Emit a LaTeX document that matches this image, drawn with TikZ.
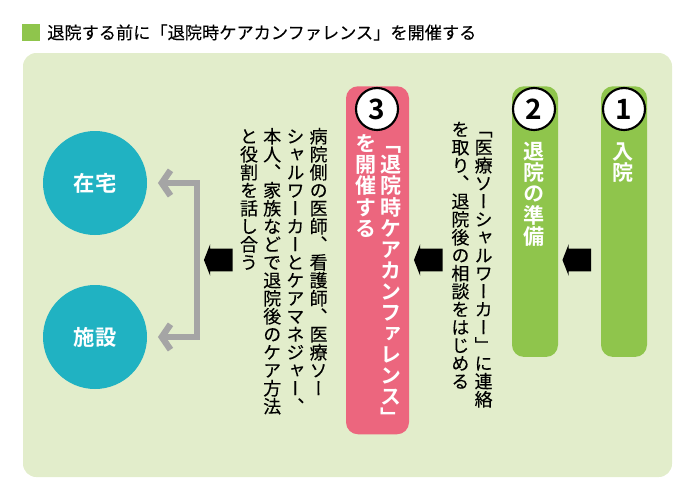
\documentclass[tikz,border=0pt]{standalone}
\usepackage{fontspec}
\setmainfont{Noto Sans CJK JP}[FakeBold=0.15]
\newfontfamily\vtext[Vertical=RotatedGlyphs,RawFeature={vertical},FakeBold=0.15]{Noto Sans CJK JP}
\newfontfamily\vbold[Vertical=RotatedGlyphs,RawFeature={vertical},BoldFont={},UprightFont={* Bold}]{Noto Sans CJK JP}
\newfontfamily\bfont[UprightFont={* Bold}]{Noto Sans CJK JP}
\usetikzlibrary{arrows.meta,positioning,shapes.arrows}
\definecolor{panelgreen}{HTML}{E2EDCB}
\definecolor{bargreen}{HTML}{8FC54C}
\definecolor{barpink}{HTML}{EC667E}
\definecolor{circleteal}{HTML}{20B2C2}
\definecolor{arrowgray}{HTML}{A5A5A5}
\tikzset{
	bar/.style={rounded corners=9pt, minimum width=#1, inner sep=0pt, anchor=north},
	numdot/.style={circle, draw=black, line width=1.6pt, fill=white, minimum size=31.5pt, inner sep=0pt, font=\bfont\fontsize{21}{21}\selectfont},
	place/.style={circle, fill=circleteal, minimum size=78pt, inner sep=0pt, text=white, font=\bfont\fontsize{16}{16}\selectfont},
	barlabel/.style={rotate=-90, anchor=north west, align=left, inner sep=0pt, text=white, font=\vbold\fontsize{15.8}{18.8}\selectfont},
	bodytext/.style={rotate=-90, anchor=north west, align=left, inner sep=0pt, font=\vtext\fontsize{13.5}{17.4}\selectfont},
	blockarrow/.style={single arrow, fill=black, minimum width=23.25pt, minimum height=21.5pt, single arrow head extend=3.4pt, single arrow tip angle=137, shape border rotate=180, inner xsep=0pt, inner ysep=8.25pt},
	grayline/.style={draw=arrowgray, line width=4.8pt, shorten >=8pt, -{Straight Barb[length=6.5pt, width=19pt, line width=4.8pt]}}
}
\begin{document}
\begin{tikzpicture}[x=0.75pt, y=-0.75pt]
	\useasboundingbox (0,0) rectangle (680,489);

	% heading
	\draw (31,32.5) node [fill=bargreen, minimum size=13pt, inner sep=0pt] (mark) {};
	\draw (47,32.5) node [anchor=west, inner sep=0pt, font=\fontsize{12.9}{15}\selectfont] (title) {退院する前に「退院時ケアカンファレンス」を開催する};

	\draw (347.5,265) node [fill=panelgreen, rounded corners=10pt, minimum width=486.75pt, minimum height=318pt, inner sep=0pt] (panel) {};

	% bars
	\draw (624,86) node [bar=34.5pt, fill=bargreen, minimum height=203pt] (bar1) {};
	\draw (535,86) node [bar=34.5pt, fill=bargreen, minimum height=203pt] (bar2) {};
	\draw (377.5,86) node [bar=47.25pt, fill=barpink, minimum height=261pt] (bar3) {};

	\draw (624,109) node [numdot] (num1) {1};
	\draw (534,109) node [numdot] (num2) {2};
	\draw (377,109) node [numdot] (num3) {3};

	\draw (641,141) node [barlabel] (label1) {入院};
	\draw (552,141) node [barlabel] (label2) {退院の準備};
	\draw (409,133) node [barlabel] (label3) {「退院時ケアカンファレンス」\\を開催する};

	% texts
	\draw (499,120) node [bodytext] (text2) {「医療ソーシャルワーカー」に連絡\\を取り、退院後の相談をはじめる};
	\draw (334,127) node [bodytext] (text3) {病院側の医師、看護師、医療ソー\\シャルワーカーとケアマネジャー、\\本人、家族などで退院後のケア方法\\と役割を話し合う};

	% black arrows
	\draw (579,260) node [blockarrow] (step1) {};
	\draw (430.5,260) node [blockarrow] (step2) {};
	\draw (220.5,260) node [blockarrow] (step3) {};

	% places
	\draw (95,183) node [place] (home) {在宅};
	\draw (95,337) node [place] (facility) {施設};

	\coordinate (fork) at (197,260);
	\draw [grayline] (fork) |- (home);
	\draw [grayline] (fork) |- (facility);
\end{tikzpicture}
\end{document}
